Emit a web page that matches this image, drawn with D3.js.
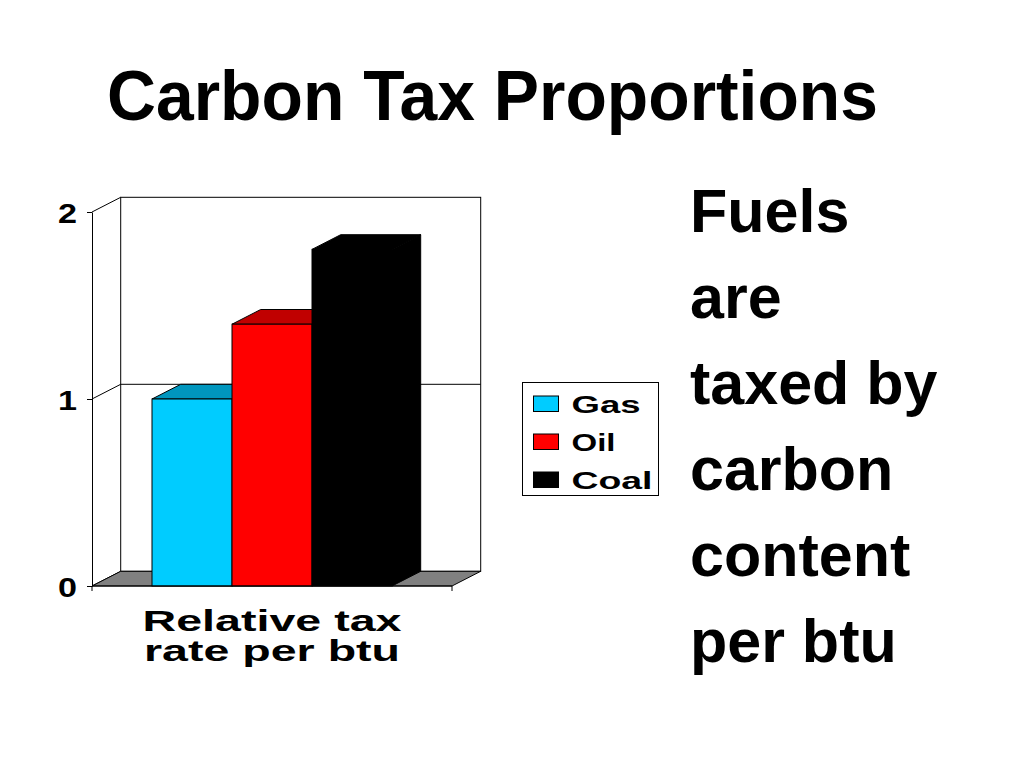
<!DOCTYPE html>
<html>
<head>
<meta charset="utf-8">
<script src="https://cdn.jsdelivr.net/npm/d3@7"></script>
<style>
  html, body { margin: 0; padding: 0; background: #fff; }
  svg { display: block; }
  text { font-family: "Liberation Sans", Arial, Helvetica, sans-serif; font-weight: bold; fill: #000; }
</style>
</head>
<body>
<svg id="chart" width="1024" height="768"></svg>
<script>
// ---- data ----
const title = "Carbon Tax Proportions";
const categories = ["Relative tax rate per btu"];
const categoryLabelLines = ["Relative tax", "rate per btu"];
const series = ["Gas", "Oil", "Coal"];
const values = [1.0, 1.4, 1.8];
const yTicks = [0, 1, 2];
const sideText = ["Fuels", "are", "taxed by", "carbon", "content", "per btu"];

// ---- styling ----
const frontColors = { Gas: "#00CCFF", Oil: "#FF0000", Coal: "#000000" };
const topColors   = { Gas: "#0096BE", Oil: "#C00000", Coal: "#000000" };
const sideColors  = { Gas: "#0096BE", Oil: "#C00000", Coal: "#000000" };

const svg = d3.select("#chart");

// layout
const plot = { left: 92, right: 452, top: 212, bottom: 586 };
const depth = { dx: 28.7, dy: -14.7 };

const y = d3.scaleLinear().domain([0, 2]).range([plot.bottom, plot.top]);
const xCat = d3.scaleBand().domain(categories).range([plot.left, plot.right])
  .paddingInner(0).paddingOuter(0.25);
const xSer = d3.scaleBand().domain(series)
  .range([xCat(categories[0]), xCat(categories[0]) + xCat.bandwidth()]).padding(0);

const yMax = y.domain()[1];

// back wall
svg.append("rect")
  .attr("x", plot.left + depth.dx).attr("y", y(yMax) + depth.dy)
  .attr("width", plot.right - plot.left).attr("height", y(0) - y(yMax))
  .attr("fill", "#fff").attr("stroke", "#000").attr("stroke-width", 1);

// gridlines (side wall diagonal + back wall)
const grid = svg.append("g");
yTicks.forEach(t => {
  grid.append("line")
    .attr("x1", plot.left).attr("y1", y(t))
    .attr("x2", plot.left + depth.dx).attr("y2", y(t) + depth.dy)
    .attr("stroke", "#000").attr("stroke-width", 1);
  if (t > 0 && t < yMax) {
    grid.append("line")
      .attr("x1", plot.left + depth.dx).attr("y1", y(t) + depth.dy)
      .attr("x2", plot.right + depth.dx).attr("y2", y(t) + depth.dy)
      .attr("stroke", "#000").attr("stroke-width", 1);
  }
});

// floor
const y0 = y(0);
svg.append("polygon")
  .attr("points", [
    [plot.left, y0], [plot.right, y0],
    [plot.right + depth.dx, y0 + depth.dy], [plot.left + depth.dx, y0 + depth.dy]
  ].map(p => p.join(",")).join(" "))
  .attr("fill", "#808080").attr("stroke", "#000").attr("stroke-width", 1);

// bars
const bars = svg.append("g");
series.forEach((s, i) => {
  const x0 = xSer(s), x1 = x0 + xSer.bandwidth();
  const yt = y(values[i]);
  const g = bars.append("g");
  g.append("polygon")
    .attr("points", [[x1, y0], [x1, yt], [x1 + depth.dx, yt + depth.dy], [x1 + depth.dx, y0 + depth.dy]]
      .map(p => p.join(",")).join(" "))
    .attr("fill", sideColors[s]).attr("stroke", "#000").attr("stroke-width", 1);
  g.append("polygon")
    .attr("points", [[x0, yt], [x1, yt], [x1 + depth.dx, yt + depth.dy], [x0 + depth.dx, yt + depth.dy]]
      .map(p => p.join(",")).join(" "))
    .attr("fill", topColors[s]).attr("stroke", "#000").attr("stroke-width", 1);
  g.append("rect")
    .attr("x", x0).attr("y", yt).attr("width", xSer.bandwidth()).attr("height", y0 - yt)
    .attr("fill", frontColors[s]).attr("stroke", "#000").attr("stroke-width", 1);
});

// y axis
const yAxis = svg.append("g")
  .attr("transform", `translate(${plot.left},0)`)
  .call(d3.axisLeft(y).tickValues(yTicks).tickFormat(d3.format("d")).tickSize(5).tickSizeOuter(0).tickPadding(0));
yAxis.select(".domain").attr("stroke", "#000");
yAxis.selectAll(".tick line").attr("stroke", "#000");
yAxis.selectAll(".tick text")
  .attr("x", -15).attr("dy", "0.36em")
  .attr("text-anchor", "end")
  .style("font-size", "28px")
  .style("font-family", "'Liberation Sans', Arial, sans-serif")
  .style("font-weight", "bold")
  .attr("textLength", 19).attr("lengthAdjust", "spacingAndGlyphs");

// x axis baseline with boundary ticks
svg.append("line")
  .attr("x1", plot.left).attr("x2", plot.right).attr("y1", y0).attr("y2", y0)
  .attr("stroke", "#000");
[plot.left, plot.right].forEach(xv => {
  svg.append("line").attr("x1", xv).attr("x2", xv).attr("y1", y0).attr("y2", y0 + 5).attr("stroke", "#000");
});

// category label
const labelWidths = [259, 256];
const cx = xCat(categories[0]) + xCat.bandwidth() / 2;
categoryLabelLines.forEach((ln, i) => {
  svg.append("text")
    .attr("x", cx).attr("y", 631 + i * 30)
    .attr("text-anchor", "middle")
    .style("font-size", "30px")
    .attr("textLength", labelWidths[i]).attr("lengthAdjust", "spacingAndGlyphs")
    .text(ln);
});

// legend
const legend = svg.append("g");
legend.append("rect")
  .attr("x", 522.5).attr("y", 382.5).attr("width", 136).attr("height", 113)
  .attr("fill", "#fff").attr("stroke", "#000").attr("stroke-width", 1);
const legendWidths = { Gas: 69, Oil: 44, Coal: 81 };
series.forEach((s, i) => {
  const ry = 396 + i * 38;
  legend.append("rect")
    .attr("x", 533.5).attr("y", ry).attr("width", 25).attr("height", 15.5)
    .attr("fill", frontColors[s]).attr("stroke", "#000").attr("stroke-width", 1);
  legend.append("text")
    .attr("x", 571.5).attr("y", ry + 16.5)
    .style("font-size", "24px")
    .attr("textLength", legendWidths[s]).attr("lengthAdjust", "spacingAndGlyphs")
    .text(s);
});

// title
svg.append("text")
  .attr("x", 107).attr("y", 120)
  .style("font-size", "71px")
  .attr("textLength", 771).attr("lengthAdjust", "spacingAndGlyphs")
  .text(title);

// side text
svg.append("g").selectAll("text").data(sideText).join("text")
  .attr("x", 690).attr("y", (d, i) => 232 + i * 86)
  .style("font-size", "61px")
  .text(d => d);
</script>
</body>
</html>
